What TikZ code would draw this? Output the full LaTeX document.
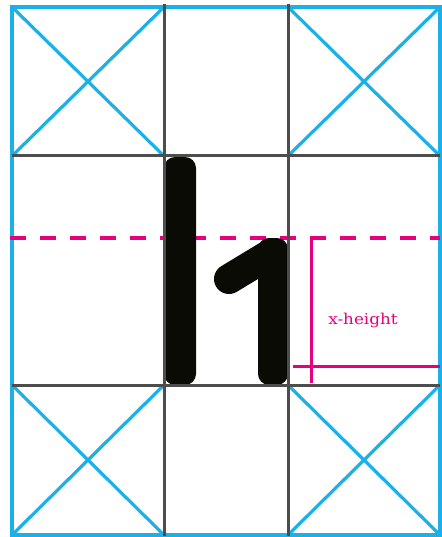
\documentclass[tikz,border=0pt]{standalone}
\usepackage{fontspec}
\newfontfamily\labelfont{DejaVu Serif}
\definecolor{gridblue}{HTML}{1BB0E8}
\definecolor{gridgray}{HTML}{4D4D4D}
\definecolor{mag}{HTML}{E6007E}
\definecolor{ink}{HTML}{0B0B06}
\tikzset{
  bluepen/.style={draw=gridblue, line width=3.2pt},
  graypen/.style={draw=gridgray, line width=3pt},
  magdash/.style={draw=mag, line width=4pt, dash pattern=on 16pt off 14pt},
  magpen/.style={draw=mag, line width=3pt},
  glyph/.style={fill=ink, draw=none},
  lbl/.style={text=mag, font=\labelfont\fontsize{15}{16}\selectfont, inner sep=0pt, xscale=1.12, transform shape}
}
\begin{document}
\begin{tikzpicture}[x=1pt, y=-1pt]
\useasboundingbox (0,0) rectangle (441,537);
% blue corner cells
\draw[bluepen] (12,7) rectangle (440,535);
\draw[bluepen] (12,7) -- (164,156) (164,7) -- (12,156);
\draw[bluepen] (288,7) -- (440,156) (440,7) -- (288,156);
\draw[bluepen] (12,385) -- (164,535) (164,385) -- (12,535);
\draw[bluepen] (288,385) -- (440,535) (440,385) -- (288,535);
% x-height dashed line
\draw[magdash] (10,238) -- (440,238);
% x-height bracket
\coordinate (xtop) at (311,238);
\coordinate (xbot) at (311,383);
\coordinate (bl) at (293,366);
\coordinate (br) at (440,366);
\draw[magpen] (xtop) -- (xbot);
\draw[magpen] (bl) -- (br);
\node[lbl] (xh) at (363,320) {x-height};
% glyphs
\fill[glyph, rounded corners=11pt] (164,157) rectangle (196,385);
\fill[glyph, rounded corners=11pt] (258,238) rectangle (288,385);
\draw[ink, line width=30pt, line cap=round] (272,253) -- (229,279);
% gray grid lines
\draw[graypen] (164,4) -- (164,536);
\draw[graypen] (288,4) -- (288,536);
\draw[graypen] (12,156) -- (440,156);
\draw[graypen] (12,385) -- (440,385);
\end{tikzpicture}
\end{document}
